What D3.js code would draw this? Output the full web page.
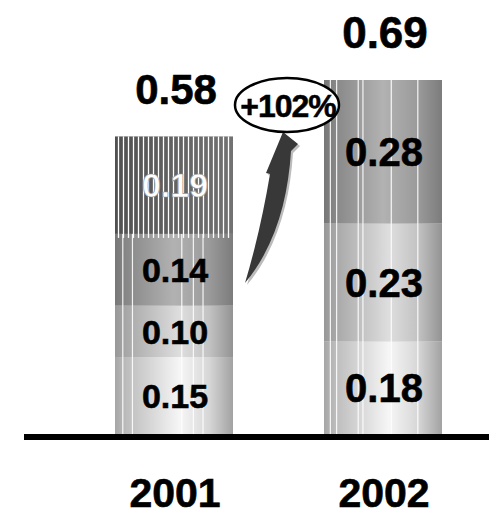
<!DOCTYPE html>
<html>
<head>
<meta charset="utf-8">
<script src="https://cdn.jsdelivr.net/npm/d3@7"></script>
<style>
  html, body { margin: 0; padding: 0; background: #fff; }
  svg { display: block; }
  text { font-family: "Liberation Sans", Arial, sans-serif; font-weight: bold; }
</style>
</head>
<body>
<svg id="chart" width="489" height="517"></svg>
<script>
// Stacked values per year, bottom to top
const years = ["2001", "2002"];
const values2001 = [0.15, 0.10, 0.14, 0.19];
const values2002 = [0.18, 0.23, 0.28];
const totals = [0.58, 0.69];
const growthLabel = "+102%";

const W = 489, H = 517;
const baseY = 434;
const svg = d3.select("#chart");

const x = d3.scalePoint().domain(years).range([174, 383]);
const y = d3.scaleLinear().domain([0, 0.69]).range([baseY, 80]);
const barW = 118;

// Shading ramps for the segments (left-to-right cylinder look)
const tones = {
  light:  [[0, "#a6a6a6"], [0.1, "#bdbdbd"], [0.55, "#f6f6f6"], [0.8, "#d6d6d6"], [1, "#a2a2a2"]],
  medium: [[0, "#989898"], [0.1, "#a8a8a8"], [0.55, "#dedede"], [0.8, "#c2c2c2"], [1, "#939393"]],
  dark:   [[0, "#777777"], [0.1, "#888888"], [0.5, "#b2b2b2"], [0.8, "#9a9a9a"], [1, "#7c7c7c"]],
  stripe: [[0, "#505050"], [0.5, "#626262"], [1, "#727272"]]
};
const defs = svg.append("defs");
Object.entries(tones).forEach(([name, stops]) => {
  const g = defs.append("linearGradient").attr("id", "g-" + name)
    .attr("x1", "0%").attr("x2", "100%").attr("y1", "0%").attr("y2", "0%");
  stops.forEach(([o, c]) => g.append("stop").attr("offset", o).attr("stop-color", c));
});

const toneOrder = ["light", "medium", "dark", "stripe"];
const series = [values2001, values2002];

// Thin white highlight lines running through the shaded segments
const gloss = {
  "2001": [0.066, 0.148, 0.566, 0.664, 0.746],
  "2002": [0.054, 0.107, 0.29, 0.33, 0.57, 0.795]
};

series.forEach((vals, i) => {
  const yr = years[i];
  const x0 = x(yr) - barW / 2;
  const g = svg.append("g");
  let acc = 0;
  const segs = vals.map((v, j) => {
    const s = { v, lo: acc, hi: acc + v, tone: toneOrder[j] };
    acc += v;
    return s;
  });

  g.selectAll("rect.seg").data(segs).join("rect")
    .attr("class", "seg")
    .attr("x", x0)
    .attr("width", barW)
    .attr("y", d => y(d.hi))
    .attr("height", d => y(d.lo) - y(d.hi))
    .attr("fill", d => "url(#g-" + d.tone + ")");

  // highlight lines on the solid segments
  const solid = segs.filter(d => d.tone !== "stripe");
  const solidTop = y(d3.max(solid, d => d.hi));
  g.selectAll("line.gl").data(gloss[yr]).join("line")
    .attr("class", "gl")
    .attr("x1", f => x0 + f * barW).attr("x2", f => x0 + f * barW)
    .attr("y1", solidTop).attr("y2", baseY)
    .attr("stroke", "#ffffff").attr("stroke-width", 1.2).attr("opacity", 0.9);

  // dense vertical striping on the top segment
  const st = segs.find(d => d.tone === "stripe");
  if (st) {
    const ys0 = y(st.hi), ys1 = y(st.lo);
    g.selectAll("line.st").data(d3.range(x0 + 3.5, x0 + barW, 5)).join("line")
      .attr("class", "st")
      .attr("x1", d => d).attr("x2", d => d)
      .attr("y1", ys0).attr("y2", ys1 + 4)
      .attr("stroke", "#ffffff").attr("stroke-width", 1.3);
  }

  // segment value labels
  const fs = yr === "2001" ? 34 : 40;
  g.selectAll("text.val").data(segs).join("text")
    .attr("class", "val")
    .attr("x", x(yr) + 1)
    .attr("y", d => (y(d.lo) + y(d.hi)) / 2 + fs * 0.36)
    .attr("text-anchor", "middle")
    .attr("font-size", fs)
    .attr("fill", d => d.tone === "stripe" ? "#ffffff" : "#000000")
    .attr("stroke", d => d.tone === "stripe" ? "#9a9a9a" : "#000000")
    .attr("stroke-width", d => d.tone === "stripe" ? 0.7 : 0.6)
    .text(d => d3.format(".2f")(d.v));

  // total above the stack
  svg.append("text")
    .attr("x", x(yr) + 2)
    .attr("y", y(totals[i]) - 32)
    .attr("text-anchor", "middle")
    .attr("font-size", i === 0 ? 42 : 44)
    .attr("fill", "#000").attr("stroke", "#000").attr("stroke-width", 0.6)
    .text(d3.format(".2f")(totals[i]));
});

// baseline
svg.append("rect").attr("x", 24).attr("y", baseY).attr("width", W - 24).attr("height", 6).attr("fill", "#000");

// year labels
svg.selectAll("text.year").data(years).join("text")
  .attr("class", "year")
  .attr("x", d => x(d) + 1)
  .attr("y", 507)
  .attr("text-anchor", "middle")
  .attr("font-size", 41)
  .attr("fill", "#000").attr("stroke", "#000").attr("stroke-width", 0.6)
  .text(d => d);

// growth arrow with soft shadow
const arrowPath = "M283,132 L298,144 L291,151 C288,200 275,247 245,283 C256,246 264,210 270,174 L266,173 Z";
svg.append("path").attr("d", arrowPath).attr("fill", "#bcbcbc").attr("transform", "translate(2,2)");
svg.append("path").attr("d", arrowPath).attr("fill", "#383838");

// growth badge
svg.append("ellipse").attr("cx", 287).attr("cy", 105).attr("rx", 52).attr("ry", 27)
  .attr("fill", "#fff").attr("stroke", "#000").attr("stroke-width", 2.5);
svg.append("text").attr("x", 288).attr("y", 117).attr("text-anchor", "middle")
  .attr("font-size", 32).attr("fill", "#000").attr("stroke", "#000").attr("stroke-width", 0.5)
  .attr("letter-spacing", -1).text(growthLabel);
</script>
</body>
</html>
